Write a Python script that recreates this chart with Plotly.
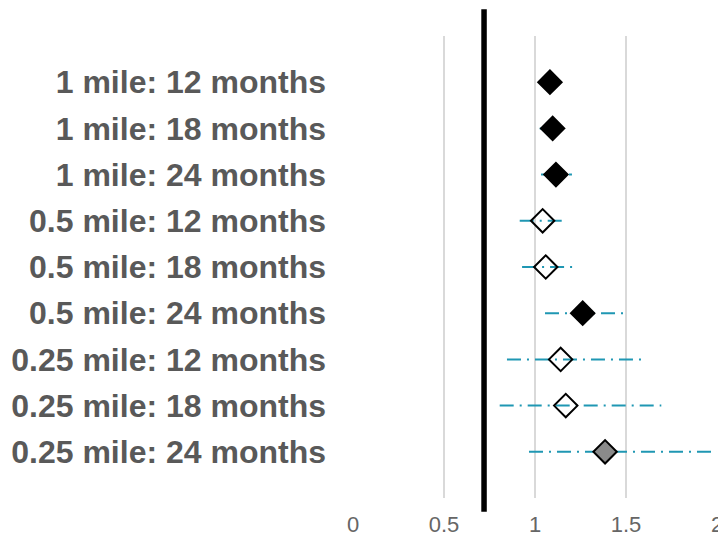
import plotly.graph_objects as go

labels = ["1 mile: 12 months", "1 mile: 18 months", "1 mile: 24 months",
          "0.5 mile: 12 months", "0.5 mile: 18 months", "0.5 mile: 24 months",
          "0.25 mile: 12 months", "0.25 mile: 18 months", "0.25 mile: 24 months"]
estimate = [1.082, 1.097, 1.115, 1.042, 1.059, 1.262, 1.141, 1.169, 1.385]
lower = [1.02, 1.026, 1.033, 0.916, 0.929, 1.055, 0.846, 0.806, 0.967]
upper = [1.158, 1.176, 1.203, 1.176, 1.225, 1.508, 1.593, 1.694, 2.0]
style = ["filled", "filled", "filled", "open", "open", "filled", "open", "open", "striped"]
ref_line = 0.72
x_ticks = [0, 0.5, 1, 1.5, 2]
x_tick_text = ["0", "0.5", "1", "1.5", "2"]

ypos = list(range(len(labels)))

fig = go.Figure()

# confidence intervals
for i in range(len(labels)):
    fig.add_trace(go.Scatter(
        x=[lower[i], upper[i]], y=[ypos[i], ypos[i]], mode="lines",
        line=dict(color="#1f97b3", width=2, dash="14px,6px,2px,6px"),
        hoverinfo="skip", showlegend=False))

fill_map = {"filled": "black", "open": "rgba(0,0,0,0)", "striped": "#8a8a8a"}
fig.add_trace(go.Scatter(
    x=estimate, y=ypos, mode="markers",
    marker=dict(symbol="diamond", size=18,
                color=[fill_map[s] for s in style],
                line=dict(color="black", width=2)),
    showlegend=False))

fig.add_shape(type="line", xref="x", yref="paper", x0=ref_line, x1=ref_line,
              y0=-0.03, y1=1.058, line=dict(color="black", width=5.5))

fig.update_layout(
    width=718, height=530,
    margin=dict(l=345, r=9, t=28, b=40, autoexpand=False),
    plot_bgcolor="white", paper_bgcolor="white",
    font=dict(family="Liberation Sans, Arial, sans-serif"),
    xaxis=dict(range=[0, 2], tickvals=x_ticks, ticktext=x_tick_text, automargin=False,
               showgrid=True, gridcolor="#d9d9d9", gridwidth=2, zeroline=False,
               showline=False, ticks="", tickfont=dict(size=22, color="#666666"),
               ticklabelstandoff=11),
    yaxis=dict(range=[len(labels), -1], tickvals=ypos, ticktext=labels, automargin=False,
               showgrid=False, zeroline=False, showline=False, ticks="",
               tickfont=dict(size=32, color="#595959", family="Liberation Sans, Arial, sans-serif",
                             weight="bold"),
               ticklabelstandoff=26),
)

fig.write_html("out.html")
